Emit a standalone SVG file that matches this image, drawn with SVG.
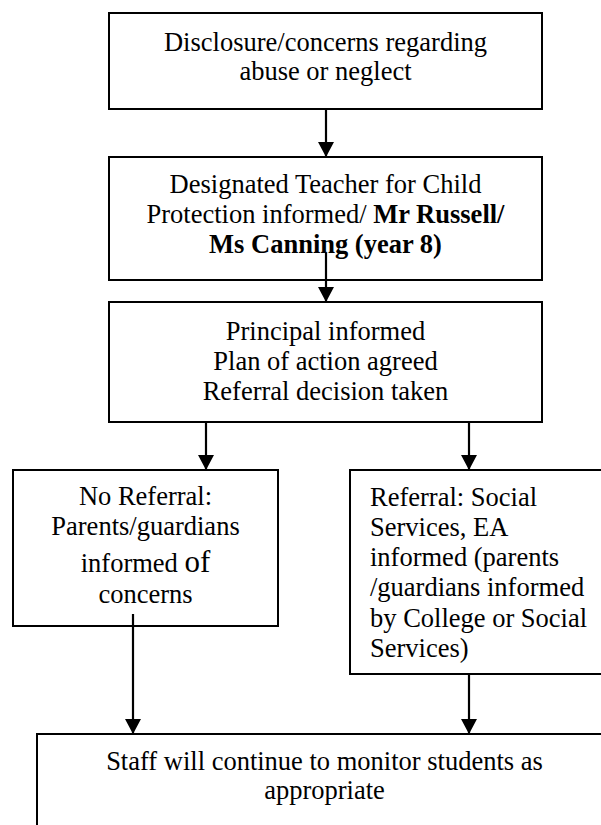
<svg xmlns="http://www.w3.org/2000/svg" width="601" height="825" viewBox="0 0 601 825">
<style>
.box{fill:#fff;stroke:#000;stroke-width:2}
text{font-family:'Liberation Serif','Times New Roman',Times,'DejaVu Serif',serif;font-size:26.5px;fill:#000}
.c{text-anchor:middle}
.b{font-weight:bold}
.conn line{stroke:#000;stroke-width:2.2}
</style>
<defs>
<marker id="ah" markerUnits="userSpaceOnUse" markerWidth="16" markerHeight="16" viewBox="0 0 16 16" refX="15" refY="8" orient="auto">
<path d="M0,0 L15,8 L0,16 Z" fill="#000"/>
</marker>
</defs>
<rect width="601" height="825" fill="#fff"/>
<g id="n1">
<rect class="box" x="109" y="13" width="433" height="96"/>
<text class="c" x="325.5" y="50.5">Disclosure/concerns regarding</text>
<text class="c" x="325.5" y="80">abuse or neglect</text>
</g>
<g id="n2">
<rect class="box" x="109" y="157" width="433" height="123"/>
<text class="c" x="325.5" y="192.5">Designated Teacher for Child</text>
<text class="c" x="325.5" y="222.5">Protection informed/ <tspan class="b">Mr Russell/</tspan></text>
<text class="c b" x="325.5" y="252.5">Ms Canning (year 8)</text>
</g>
<g id="n3">
<rect class="box" x="109" y="302" width="433" height="120"/>
<text class="c" x="325.5" y="340">Principal informed</text>
<text class="c" x="325.5" y="370">Plan of action agreed</text>
<text class="c" x="325.5" y="400">Referral decision taken</text>
</g>
<g id="n4">
<rect class="box" x="13" y="470" width="265" height="156"/>
<text class="c" x="145.5" y="505">No Referral:</text>
<text class="c" x="145.5" y="535">Parents/guardians</text>
<text class="c" x="145.5" y="571.5">informed <tspan style="font-size:31px">of</tspan></text>
<text class="c" x="145.5" y="602.5">concerns</text>
</g>
<g id="n5">
<rect class="box" x="350" y="470" width="270" height="204"/>
<text x="370" y="506">Referral: Social</text>
<text x="370" y="536">Services, EA</text>
<text x="370" y="566">informed (parents</text>
<text x="370" y="596">/guardians informed</text>
<text x="370" y="626.5">by College or Social</text>
<text x="370" y="657">Services)</text>
</g>
<g id="n6">
<rect class="box" x="37" y="734" width="575" height="110"/>
<text class="c" x="324.5" y="770">Staff will continue to monitor students as</text>
<text class="c" x="324.5" y="799">appropriate</text>
</g>
<g id="connectors" class="conn">
<line x1="326" y1="109" x2="326" y2="157" marker-end="url(#ah)"/>
<line x1="326" y1="253" x2="326" y2="302" marker-end="url(#ah)"/>
<line x1="206" y1="422" x2="206" y2="470" marker-end="url(#ah)"/>
<line x1="469" y1="422" x2="469" y2="470" marker-end="url(#ah)"/>
<line x1="133" y1="614" x2="133" y2="734" marker-end="url(#ah)"/>
<line x1="469" y1="674" x2="469" y2="734" marker-end="url(#ah)"/>
</g>
</svg>
